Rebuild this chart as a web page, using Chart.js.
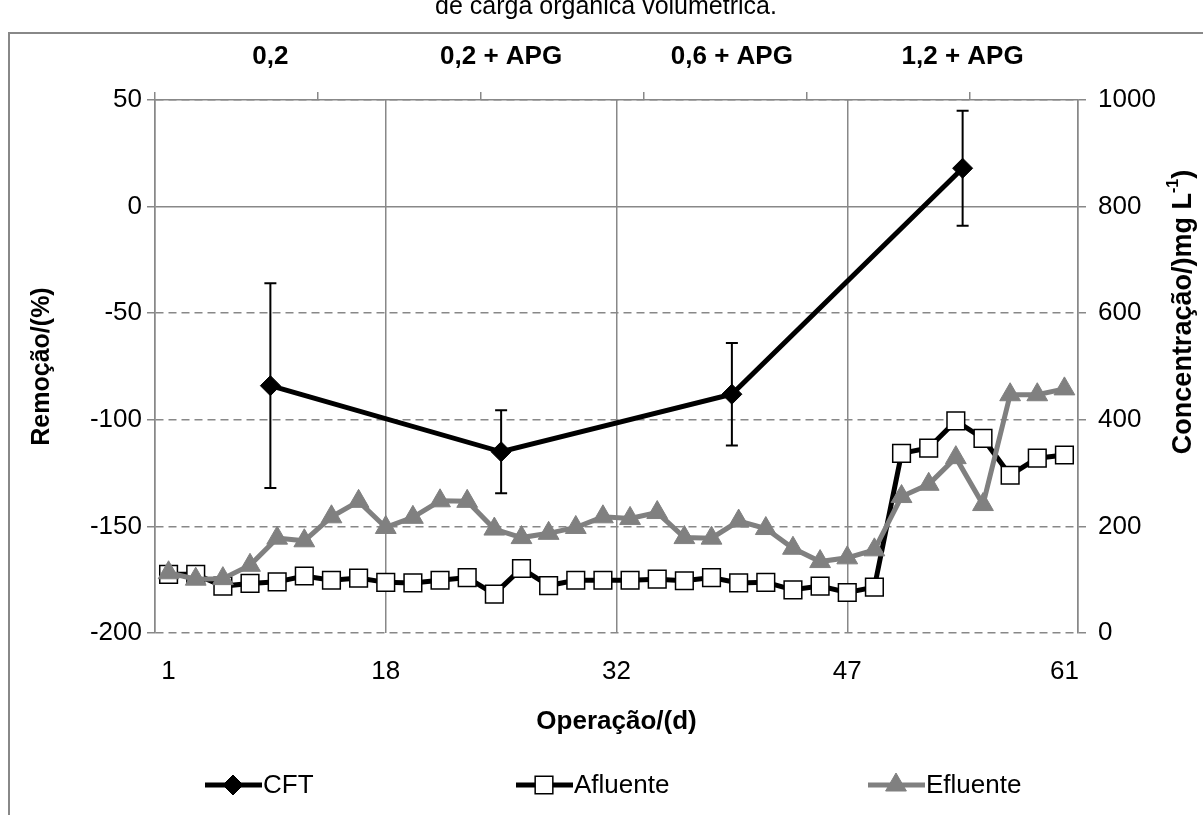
<!DOCTYPE html>
<html lang="pt">
<head>
<meta charset="utf-8">
<title>Remoção de CFT</title>
<script src="https://cdn.jsdelivr.net/npm/chart.js@4.4.1/dist/chart.umd.min.js"></script>
<style>
  html, body { margin: 0; padding: 0; background: #fff; }
  #wrap { width: 1203px; height: 815px; }
</style>
</head>
<body>
<div id="wrap"><canvas id="grafico" width="1203" height="815"></canvas></div>
<script>
// Amostras ao longo da operação (eixo inferior)
const amostras = [1, 2, 3, 4, 5, 6, 7, 8, 9, 10, 11, 12, 13, 14, 15, 16, 17,
                  18, 19, 20, 21, 22, 23, 24, 25, 26, 27, 28, 29, 30, 31, 32, 33, 34];
// Rótulos de dias mostrados no eixo inferior e a amostra onde cada um fica
const rotulosDias = ['1', '18', '32', '47', '61'];
const amostraDosRotulos = [1, 9, 17.5, 26, 34];

// Fases (eixo superior) e remoção de CFT com desvio
const fases = ['0,2', '0,2 + APG', '0,6 + APG', '1,2 + APG'];
const cft = [-84, -115, -88, 18];
const cftErro = [48, 19.5, 24, 27];

// Concentrações (mg/L)
const afluente = [110, 110, 88, 93, 96, 107, 99, 103, 95, 94, 99, 104, 73, 121, 89, 99, 99,
                  99, 101, 98, 104, 94, 95, 81, 88, 76, 86, 337, 347, 398, 365, 296, 328, 334];
const efluente = [113, 101, 102, 127, 178, 173, 218, 247, 198, 217, 248, 247, 195, 179, 187, 198, 218,
                  215, 226, 179, 178, 210, 196, 159, 134, 141, 156, 256, 279, 329, 241, 447, 447, 458];

const CINZA = '#888888';
const CINZA_SERIE = '#808080';
const FONTE = "'Liberation Sans', Arial, sans-serif";

Chart.defaults.font.family = FONTE;
Chart.defaults.color = '#000';

// Fundo, moldura e título cortado no topo
const moldura = {
    id: 'moldura',
    beforeDraw(chart) {
        const ctx = chart.ctx;
        ctx.save();
        ctx.fillStyle = '#fff';
        ctx.fillRect(0, 0, chart.width, chart.height);
        ctx.strokeStyle = CINZA;
        ctx.lineWidth = 2;
        ctx.beginPath();
        ctx.moveTo(9, chart.height);
        ctx.lineTo(9, 33);
        ctx.lineTo(chart.width, 33);
        ctx.stroke();
        ctx.fillStyle = '#000';
        ctx.font = '25px ' + FONTE;
        ctx.textAlign = 'center';
        ctx.textBaseline = 'alphabetic';
        ctx.fillText('de carga orgânica volumétrica.', 606, 14);
        ctx.restore();
    }
};

// Barras de erro da série CFT
const barrasErro = {
    id: 'barrasErro',
    afterDatasetsDraw(chart) {
        const meta = chart.getDatasetMeta(0);
        const y = chart.scales.y;
        const ctx = chart.ctx;
        ctx.save();
        ctx.strokeStyle = '#000';
        ctx.lineWidth = 2;
        meta.data.forEach((pt, i) => {
            const yTopo = y.getPixelForValue(cft[i] + cftErro[i]);
            const yBase = y.getPixelForValue(cft[i] - cftErro[i]);
            ctx.beginPath();
            ctx.moveTo(pt.x, yTopo);
            ctx.lineTo(pt.x, yBase);
            ctx.moveTo(pt.x - 6, yTopo);
            ctx.lineTo(pt.x + 6, yTopo);
            ctx.moveTo(pt.x - 6, yBase);
            ctx.lineTo(pt.x + 6, yBase);
            ctx.stroke();
        });
        ctx.restore();
    }
};

// Marcadores usados na legenda
function marcador(ctx, estilo, x, y, r) {
    ctx.beginPath();
    if (estilo === 'rectRot') {
        ctx.moveTo(x - r, y); ctx.lineTo(x, y - r); ctx.lineTo(x + r, y); ctx.lineTo(x, y + r);
    } else if (estilo === 'rect') {
        const s = r * Math.SQRT1_2;
        ctx.rect(x - s, y - s, 2 * s, 2 * s);
    } else {
        ctx.moveTo(x, y - r);
        ctx.lineTo(x + r * 0.866, y + r * 0.5);
        ctx.lineTo(x - r * 0.866, y + r * 0.5);
    }
    ctx.closePath();
    ctx.fill();
    ctx.stroke();
}

// Legenda desenhada à mão (linha + marcador + texto)
const legendaManual = {
    id: 'legendaManual',
    afterDraw(chart) {
        const ctx = chart.ctx;
        const itens = [
            { ds: chart.data.datasets[0], x: 205 },
            { ds: chart.data.datasets[2], x: 516 },
            { ds: chart.data.datasets[1], x: 868 }
        ];
        const y = 785;
        ctx.save();
        itens.forEach(({ ds, x }) => {
            ctx.strokeStyle = ds.borderColor;
            ctx.lineWidth = ds.borderWidth;
            ctx.beginPath();
            ctx.moveTo(x, y);
            ctx.lineTo(x + 57, y);
            ctx.stroke();
            ctx.fillStyle = ds.pointBackgroundColor;
            ctx.strokeStyle = ds.pointBorderColor;
            ctx.lineWidth = ds.pointBorderWidth;
            marcador(ctx, ds.pointStyle, x + 28, y, ds.pointRadius);
            ctx.fillStyle = '#000';
            ctx.font = '26px ' + FONTE;
            ctx.textAlign = 'left';
            ctx.textBaseline = 'middle';
            ctx.fillText(ds.label, x + 58, y + 1);
        });
        ctx.restore();
    }
};

// Título do eixo direito com sobrescrito
const tituloDireito = {
    id: 'tituloDireito',
    afterDraw(chart) {
        const ctx = chart.ctx;
        const principal = 'Concentração/)mg L';
        const sobre = '-1';
        const fim = ')';
        const fMain = 'bold 27px ' + FONTE;
        const fSup = 'bold 16px ' + FONTE;
        ctx.save();
        ctx.font = fMain;
        const w1 = ctx.measureText(principal).width;
        const w3 = ctx.measureText(fim).width;
        ctx.font = fSup;
        const w2 = ctx.measureText(sobre).width;
        const total = w1 + w2 + w3;
        ctx.translate(1184, 312);
        ctx.rotate(-Math.PI / 2);
        ctx.fillStyle = '#000';
        ctx.textAlign = 'left';
        ctx.textBaseline = 'middle';
        let x = -total / 2;
        ctx.font = fMain;
        ctx.fillText(principal, x, 0);
        x += w1;
        ctx.font = fSup;
        ctx.fillText(sobre, x, -10);
        x += w2;
        ctx.font = fMain;
        ctx.fillText(fim, x, 0);
        ctx.restore();
    }
};

const ctx = document.getElementById('grafico').getContext('2d');
new Chart(ctx, {
    type: 'line',
    data: {
        datasets: [
            {
                label: 'CFT',
                data: cft.map((v, i) => ({ x: fases[i], y: v })),
                xAxisID: 'x2',
                yAxisID: 'y',
                borderColor: '#000',
                borderWidth: 5,
                pointStyle: 'rectRot',
                pointRadius: 10,
                pointBackgroundColor: '#000',
                pointBorderColor: '#000',
                pointBorderWidth: 1,
                tension: 0
            },
            {
                label: 'Efluente',
                data: efluente.map((v, i) => ({ x: amostras[i], y: v })),
                xAxisID: 'x',
                yAxisID: 'y2',
                borderColor: CINZA_SERIE,
                borderWidth: 5,
                pointStyle: 'triangle',
                pointRadius: 12,
                pointBackgroundColor: CINZA_SERIE,
                pointBorderColor: CINZA_SERIE,
                pointBorderWidth: 1,
                tension: 0
            },
            {
                label: 'Afluente',
                data: afluente.map((v, i) => ({ x: amostras[i], y: v })),
                xAxisID: 'x',
                yAxisID: 'y2',
                borderColor: '#000',
                borderWidth: 5,
                pointStyle: 'rect',
                pointRadius: 12.5,
                pointBackgroundColor: '#fff',
                pointBorderColor: '#000',
                pointBorderWidth: 1.5,
                tension: 0
            }
        ]
    },
    options: {
        responsive: false,
        animation: false,
        devicePixelRatio: 1,
        layout: { padding: 0 },
        plugins: {
            legend: { display: false },
            tooltip: { enabled: false }
        },
        scales: {
            x: {
                type: 'linear',
                position: 'bottom',
                min: 0.5,
                max: 34.5,
                afterBuildTicks: (scale) => {
                    scale.ticks = amostraDosRotulos.map(v => ({ value: v }));
                },
                afterFit: (scale) => { scale.height = 182; },
                ticks: {
                    autoSkip: false,
                    maxRotation: 0,
                    padding: 23,
                    font: { size: 26 },
                    callback: (value, i) => rotulosDias[i]
                },
                grid: { display: false, drawTicks: false },
                border: { display: false },
                title: {
                    display: true,
                    text: 'Operação/(d)',
                    font: { size: 26, weight: 'bold' },
                    padding: { top: 0, bottom: 78 }
                }
            },
            x2: {
                type: 'category',
                position: 'top',
                labels: fases,
                offset: true,
                weight: 1,
                afterFit: (scale) => { scale.height = 90; },
                ticks: {
                    padding: 18,
                    font: { size: 26, weight: 'bold' }
                },
                grid: {
                    offset: true,
                    drawTicks: false,
                    color: CINZA,
                    lineWidth: 1.5
                },
                border: { display: false }
            },
            x3: {
                type: 'linear',
                position: 'top',
                min: 0.5,
                max: 34.5,
                weight: 0,
                afterBuildTicks: (scale) => {
                    scale.ticks = amostras.filter((a, i) => i % 6 === 0).map(a => ({ value: a - 0.5 }));
                },
                afterFit: (scale) => { scale.height = 10; },
                ticks: { display: false },
                grid: {
                    drawOnChartArea: false,
                    drawTicks: true,
                    tickLength: 8,
                    color: CINZA,
                    lineWidth: 1.5
                },
                border: { display: true, color: CINZA, width: 1.5 }
            },
            y: {
                type: 'linear',
                position: 'left',
                min: -200,
                max: 50,
                afterFit: (scale) => { scale.width = 155; },
                ticks: {
                    stepSize: 50,
                    padding: 5,
                    font: { size: 26 },
                    callback: (v) => String(v)
                },
                grid: {
                    color: CINZA,
                    lineWidth: 1.5,
                    tickLength: 8,
                    tickBorderDash: []
                },
                border: {
                    display: true,
                    color: CINZA,
                    width: 1.5,
                    dash: (c) => (c.tick && c.tick.value === 0) ? [] : [8, 5]
                },
                title: {
                    display: true,
                    text: 'Remoção/(%)',
                    font: { size: 25, weight: 'bold' },
                    padding: { top: 27, bottom: 0 }
                }
            },
            y2: {
                type: 'linear',
                position: 'right',
                min: 0,
                max: 1000,
                afterFit: (scale) => { scale.width = 125; },
                ticks: {
                    stepSize: 200,
                    padding: 12,
                    font: { size: 26 },
                    callback: (v) => String(v)
                },
                grid: {
                    drawOnChartArea: false,
                    color: CINZA,
                    lineWidth: 1.5,
                    tickLength: 8
                },
                border: { display: true, color: CINZA, width: 1.5 }
            }
        }
    },
    plugins: [moldura, barrasErro, legendaManual, tituloDireito]
});
</script>
</body>
</html>
